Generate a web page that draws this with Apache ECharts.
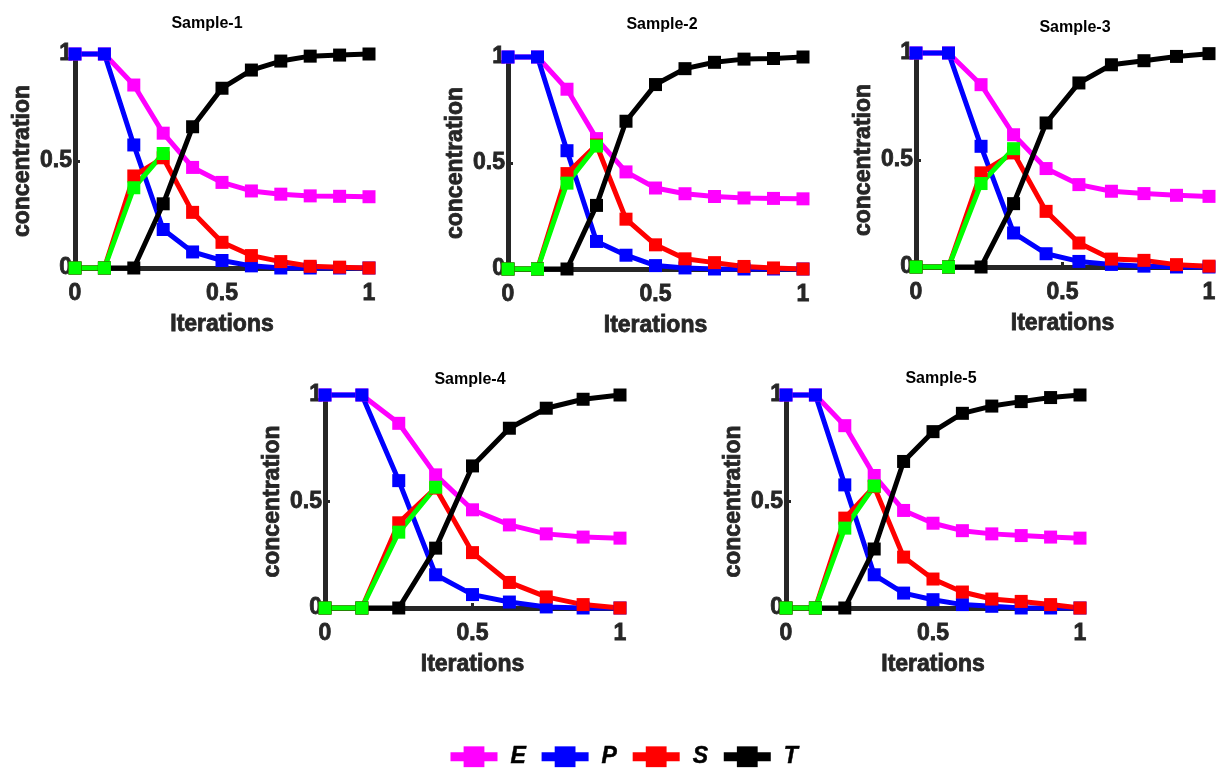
<!DOCTYPE html>
<html>
<head>
<meta charset="utf-8">
<title>Samples</title>
<script src="https://cdn.jsdelivr.net/npm/echarts@6/dist/echarts.min.js"></script>
<style>
    html, body { margin: 0; padding: 0; background: #fff; }
    #chart { width: 1225px; height: 769px; }
</style>
</head>
<body>
<div id="chart"></div>
<script>
// 数据
const sampleNames = ['Sample-1', 'Sample-2', 'Sample-3', 'Sample-4', 'Sample-5'];
const legendNames = ['E', 'P', 'S', 'T'];

const x1 = [0, 0.1, 0.2, 0.3, 0.4, 0.5, 0.6, 0.7, 0.8, 0.9, 1];
const x2 = [0, 0.1, 0.2, 0.3, 0.4, 0.5, 0.6, 0.7, 0.8, 0.9, 1];
const x3 = [0, 0.111, 0.222, 0.333, 0.444, 0.556, 0.667, 0.778, 0.889, 1];
const x4 = [0, 0.125, 0.25, 0.375, 0.5, 0.625, 0.75, 0.875, 1];
const x5 = [0, 0.1, 0.2, 0.3, 0.4, 0.5, 0.6, 0.7, 0.8, 0.9, 1];

// Sample-1
const e1 = [1, 1, 0.855, 0.63, 0.47, 0.40, 0.36, 0.345, 0.337, 0.335, 0.333];
const p1 = [1, 1, 0.575, 0.18, 0.075, 0.035, 0.01, 0, 0, 0, 0];
const s1 = [0, 0, 0.43, 0.515, 0.26, 0.12, 0.058, 0.03, 0.008, 0.004, 0];
const t1 = [0, 0, 0, 0.30, 0.66, 0.84, 0.925, 0.967, 0.99, 0.995, 1];
const g1 = [0, 0, 0.375, 0.535];

// Sample-2
const e2 = [1, 1, 0.848, 0.615, 0.458, 0.382, 0.355, 0.342, 0.335, 0.333, 0.331];
const p2 = [1, 1, 0.558, 0.13, 0.065, 0.016, 0.005, 0, 0, 0, 0];
const s2 = [0, 0, 0.45, 0.585, 0.235, 0.114, 0.048, 0.03, 0.012, 0.005, 0];
const t2 = [0, 0, 0, 0.30, 0.697, 0.87, 0.945, 0.975, 0.99, 0.993, 1];
const g2 = [0, 0, 0.405, 0.58];

// Sample-3
const e3 = [1, 1, 0.852, 0.618, 0.46, 0.385, 0.354, 0.343, 0.335, 0.33];
const p3 = [1, 1, 0.564, 0.159, 0.062, 0.026, 0.012, 0.004, 0, 0];
const s3 = [0, 0, 0.44, 0.533, 0.26, 0.112, 0.037, 0.031, 0.011, 0.004];
const t3 = [0, 0, 0, 0.296, 0.673, 0.86, 0.945, 0.964, 0.984, 0.997];
const g3 = [0, 0, 0.39, 0.553];

// Sample-4
const e4 = [1, 1, 0.867, 0.625, 0.461, 0.39, 0.348, 0.333, 0.328];
const p4 = [1, 1, 0.598, 0.156, 0.063, 0.028, 0.005, 0, 0];
const s4 = [0, 0, 0.40, 0.563, 0.26, 0.12, 0.052, 0.016, 0];
const t4 = [0, 0, 0, 0.281, 0.667, 0.844, 0.938, 0.98, 1];
const g4 = [0, 0, 0.356, 0.567];

// Sample-5
const e5 = [1, 1, 0.856, 0.622, 0.458, 0.398, 0.363, 0.348, 0.34, 0.333, 0.328];
const p5 = [1, 1, 0.578, 0.156, 0.07, 0.039, 0.016, 0.008, 0, 0, 0];
const s5 = [0, 0, 0.422, 0.57, 0.239, 0.136, 0.075, 0.042, 0.031, 0.016, 0];
const t5 = [0, 0, 0, 0.277, 0.688, 0.828, 0.914, 0.948, 0.969, 0.988, 1];
const g5 = [0, 0, 0.375, 0.573];

const xValues = [x1, x2, x3, x4, x5];
const eValues = [e1, e2, e3, e4, e5];
const pValues = [p1, p2, p3, p4, p5];
const sValues = [s1, s2, s3, s4, s5];
const tValues = [t1, t2, t3, t4, t5];
const gValues = [g1, g2, g3, g4, g5];

// 布局
const grids = [
    { left: 75, top: 54, width: 294, height: 214 },
    { left: 508, top: 57, width: 295, height: 212 },
    { left: 916, top: 53, width: 293, height: 214 },
    { left: 325, top: 395, width: 295, height: 213 },
    { left: 786, top: 395, width: 294, height: 213 }
];
const titlePos = [[202, 11], [657, 12], [1070, 15], [465, 367], [936, 366]];

const colors = { E: '#ff00ff', P: '#0000ff', S: '#ff0000', T: '#000000', G: '#00ff00' };
const axisColor = '#262626';
const fontFamily = '"Liberation Sans", Arial, Helvetica, sans-serif';

function pairs(xs, ys) {
    return ys.map((y, i) => [xs[i], y]);
}

function makeSeries(name, color, idx, data) {
    return {
        name: name,
        type: 'line',
        xAxisIndex: idx,
        yAxisIndex: idx,
        data: data,
        symbol: 'rect',
        symbolSize: 13,
        clip: false,
        itemStyle: { color: color },
        lineStyle: { color: color, width: 5 },
        emphasis: { disabled: true }
    };
}

// 加粗文字（模拟原图较粗的字形）
function boldText(size, color) {
    return {
        fontSize: size,
        fontWeight: 'bold',
        color: color,
        fontFamily: fontFamily,
        textBorderColor: color,
        textBorderWidth: 0.8
    };
}

function makeAxis(idx, name, isX) {
    return {
        type: 'value',
        gridIndex: idx,
        min: 0,
        max: 1,
        interval: 0.5,
        name: name,
        nameLocation: 'middle',
        nameGap: isX ? 45 : 41,
        nameTextStyle: boldText(23, axisColor),
        axisLine: { show: true, onZero: false, lineStyle: { color: axisColor, width: 5 } },
        axisTick: { show: true, inside: true, length: 5, lineStyle: { color: axisColor, width: 3 } },
        axisLabel: Object.assign(boldText(23, axisColor), { margin: isX ? 14 : 3 }),
        splitLine: { show: false }
    };
}

function initChart() {
    const chart = echarts.init(document.getElementById('chart'));

    const title = [];
    const grid = [];
    const xAxis = [];
    const yAxis = [];
    const series = [];

    for (let i = 0; i < sampleNames.length; i++) {
        title.push({
            text: sampleNames[i],
            left: titlePos[i][0],
            top: titlePos[i][1],
            textAlign: 'center',
            textStyle: { fontSize: 16, fontWeight: 'bold', color: '#000', fontFamily: fontFamily }
        });
        grid.push(Object.assign({ containLabel: false }, grids[i]));
        xAxis.push(makeAxis(i, 'Iterations', true));
        yAxis.push(makeAxis(i, 'concentration', false));

        const xs = xValues[i];
        series.push(makeSeries('E', colors.E, i, pairs(xs, eValues[i])));
        series.push(makeSeries('P', colors.P, i, pairs(xs, pValues[i])));
        series.push(makeSeries('S', colors.S, i, pairs(xs, sValues[i])));
        series.push(makeSeries('T', colors.T, i, pairs(xs, tValues[i])));
        series.push(makeSeries('G', colors.G, i, pairs(xs, gValues[i])));
    }

    const option = {
        animation: false,
        backgroundColor: '#fff',
        title: title,
        grid: grid,
        xAxis: xAxis,
        yAxis: yAxis,
        legend: {
            data: legendNames,
            left: 446,
            top: 745,
            padding: 0,
            itemWidth: 47,
            itemHeight: 26,
            itemGap: 11,
            lineStyle: { width: 9 },
            textStyle: Object.assign(boldText(23, '#000'), {
                fontStyle: 'italic',
                textBorderWidth: 0.5,
                padding: [0, 0, 0, 8]
            })
        },
        series: series
    };

    chart.setOption(option);
    window.addEventListener('resize', () => chart.resize());
}

document.addEventListener('DOMContentLoaded', function() {
    initChart();
});
</script>
</body>
</html>
